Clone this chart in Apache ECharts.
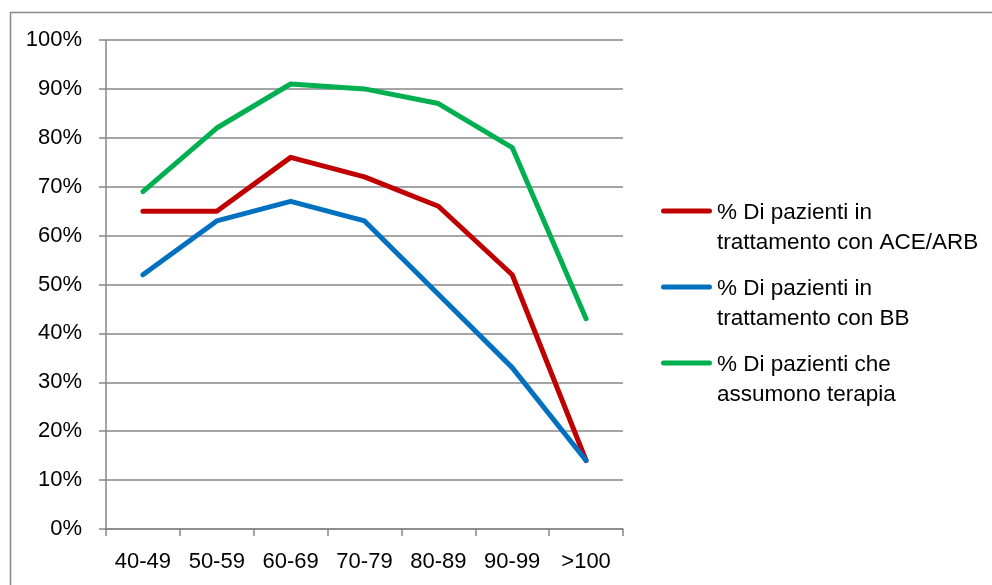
<!DOCTYPE html>
<html>
<head>
<meta charset="utf-8">
<script src="https://cdn.jsdelivr.net/npm/echarts@6/dist/echarts.min.js"></script>
<style>
  html, body { margin: 0; padding: 0; background: #fff; }
  #chart { width: 992px; height: 585px; }
</style>
</head>
<body>
<div id="chart"></div>
<script>
// Fasce d'età
const categories = ['40-49', '50-59', '60-69', '70-79', '80-89', '90-99', '>100'];

// Percentuali per fascia d'età
const aceArb  = [65, 65, 76, 72, 66, 52, 14];
const bb      = [52, 63, 67, 63, 48, 33, 14];
const terapia = [69, 82, 91, 90, 87, 78, 43];

const seriesNames = [
  '% Di pazienti in\ntrattamento con ACE/ARB',
  '% Di pazienti in\ntrattamento con BB',
  '% Di pazienti che\nassumono terapia'
];
const seriesColors = ['#C00000', '#0070C0', '#00B050'];
const seriesData = [aceArb, bb, terapia];

const gridColor = '#878787';
const fontFamily = '"Liberation Sans", Arial, sans-serif';

// Legend marker: a short rounded bar aligned with the first text line.
// The tiny dots at top and bottom pin the path's box so the bar keeps its place.
const legendIcon = 'path://M0,0 L0.01,0 L0,0.01 Z ' +
  'M2.5,11 L48.5,11 A2.5,2.5 0 0 1 48.5,16 L2.5,16 A2.5,2.5 0 0 1 2.5,11 Z ' +
  'M0,60 L0.01,60 L0,59.99 Z';

const chart = echarts.init(document.getElementById('chart'), null, { renderer: 'canvas' });

chart.setOption({
  animation: false,
  backgroundColor: '#ffffff',
  graphic: [{
    type: 'rect',
    shape: { x: 10.5, y: 12.5, width: 1000, height: 600 },
    style: { fill: 'none', stroke: gridColor, lineWidth: 1.5 },
    silent: true
  }],
  grid: { left: 106, top: 40, width: 517, height: 489, containLabel: false },
  legend: {
    orient: 'vertical',
    left: 661,
    top: 197.5,
    padding: 0,
    itemWidth: 51,
    itemHeight: 60,
    itemGap: 16,
    symbolKeepAspect: false,
    icon: legendIcon,
    textStyle: {
      fontFamily: fontFamily,
      fontSize: 22.5,
      color: '#000',
      lineHeight: 30
    },
    data: seriesNames
  },
  xAxis: {
    type: 'category',
    data: categories,
    boundaryGap: true,
    axisLine: { lineStyle: { color: gridColor, width: 1.5 } },
    axisTick: { show: true, length: 7, lineStyle: { color: gridColor, width: 1.5 } },
    axisLabel: {
      interval: 0,
      color: '#000',
      fontFamily: fontFamily,
      fontSize: 22,
      margin: 22
    }
  },
  yAxis: {
    type: 'value',
    min: 0,
    max: 100,
    interval: 10,
    axisLine: { show: true, lineStyle: { color: gridColor, width: 1.5 } },
    axisTick: { show: true, length: 7, lineStyle: { color: gridColor, width: 1.5 } },
    splitLine: { show: true, lineStyle: { color: gridColor, width: 1.5 } },
    axisLabel: {
      color: '#000',
      fontFamily: fontFamily,
      fontSize: 22,
      margin: 24,
      formatter: '{value}%'
    }
  },
  series: seriesNames.map((name, i) => ({
    name: name,
    type: 'line',
    data: seriesData[i],
    symbol: 'none',
    smooth: false,
    color: seriesColors[i],
    lineStyle: { width: 5, color: seriesColors[i], cap: 'round', join: 'round' }
  }))
});
</script>
</body>
</html>
